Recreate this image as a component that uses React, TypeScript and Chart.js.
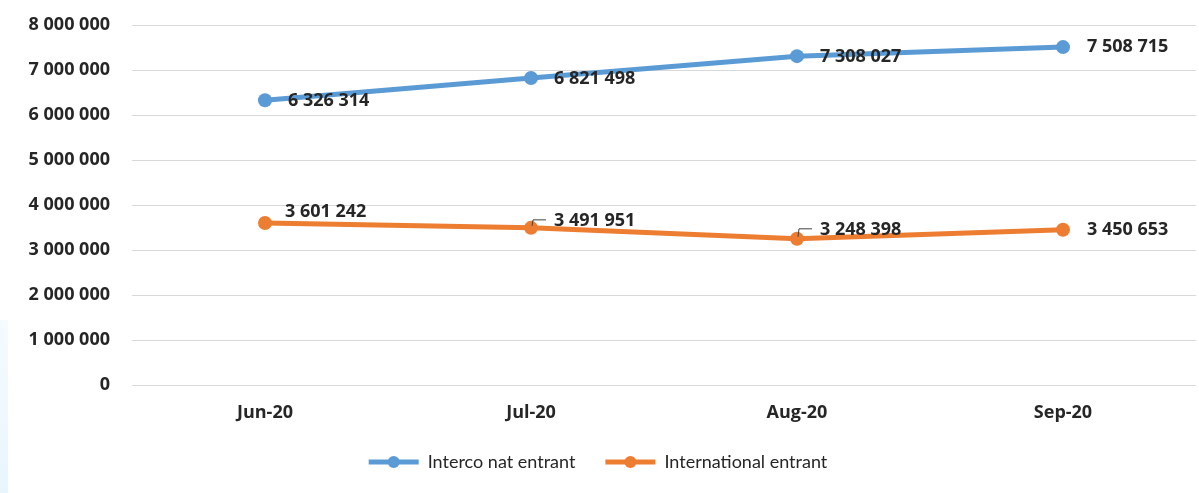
import React, { useEffect, useRef } from "react";
import { Chart, registerables } from "chart.js";

Chart.register(...registerables);

const categories = ["Jun-20", "Jul-20", "Aug-20", "Sep-20"];
const intercoNatEntrant = [6326314, 6821498, 7308027, 7508715];
const internationalEntrant = [3601242, 3491951, 3248398, 3450653];
const seriesNames = ["Interco nat entrant", "International entrant"];
const yMax = 8000000;
const yStep = 1000000;

const BLUE = "#5B9BD5";
const ORANGE = "#ED7D31";
const TEXT = "#262626";
const FONT = "'Open Sans', Lato, sans-serif";
const LEGEND_FONT = "Lato, 'Open Sans', sans-serif";

const fmt = (v: number) => String(Math.round(v)).replace(/\B(?=(\d{3})+(?!\d))/g, " ");

// label placement relative to each point (dx: left edge of text, dy: vertical centre), leader flag
const labelPlacement = [
  [
    { dx: 23, dy: 1, leader: false },
    { dx: 23, dy: 1, leader: false },
    { dx: 23, dy: 1, leader: false },
    { dx: 24, dy: 0, leader: false },
  ],
  [
    { dx: 20, dy: -11, leader: false },
    { dx: 23, dy: -7, leader: true },
    { dx: 23, dy: -9, leader: true },
    { dx: 24, dy: 0, leader: false },
  ],
];

const dataLabelPlugin = {
  id: "dataLabels",
  afterDatasetsDraw(chart: any) {
    const ctx = chart.ctx;
    ctx.save();
    ctx.font = `bold 18px ${FONT}`;
    ctx.fillStyle = TEXT;
    ctx.textAlign = "left";
    ctx.textBaseline = "middle";
    chart.data.datasets.forEach((ds: any, di: number) => {
      const meta = chart.getDatasetMeta(di);
      meta.data.forEach((pt: any, i: number) => {
        const p = labelPlacement[di][i];
        if (p.leader) {
          ctx.strokeStyle = "#404040";
          ctx.lineWidth = 1;
          ctx.beginPath();
          ctx.moveTo(pt.x + 1, pt.y - 2);
          ctx.lineTo(pt.x + 2, pt.y + p.dy - 1);
          ctx.lineTo(pt.x + 15, pt.y + p.dy - 1);
          ctx.stroke();
        }
        ctx.fillText(fmt(ds.data[i]), pt.x + p.dx, pt.y + p.dy);
      });
    });
    ctx.restore();
  },
};

const legendDotPlugin = {
  id: "legendDots",
  beforeLayout(chart: any) {
    const lg = chart.legend;
    if (lg && !lg.__patched) {
      const orig = lg.fit.bind(lg);
      lg.fit = () => {
        orig();
        lg.height = 70;
      };
      lg.__patched = true;
    }
  },
  afterDraw(chart: any) {
    const legend = chart.legend;
    if (!legend || !legend.legendHitBoxes) return;
    const ctx = chart.ctx;
    ctx.save();
    legend.legendHitBoxes.forEach((hb: any, i: number) => {
      const color = chart.data.datasets[i].borderColor;
      ctx.fillStyle = color;
      ctx.beginPath();
      ctx.arc(hb.left + 25, hb.top + hb.height / 2, 6, 0, Math.PI * 2);
      ctx.fill();
    });
    ctx.restore();
  },
};

const bgPlugin = {
  id: "bg",
  beforeDraw(chart: any) {
    const ctx = chart.ctx;
    ctx.save();
    ctx.fillStyle = "#ffffff";
    ctx.fillRect(0, 0, chart.width, chart.height);
    const g = ctx.createLinearGradient(0, 320, 0, 493);
    g.addColorStop(0, "#F5FBFE");
    g.addColorStop(1, "#E8F5FC");
    ctx.fillStyle = g;
    ctx.fillRect(0, 320, 8, 173);
    ctx.restore();
  },
};

export default function App() {
  const ref = useRef<HTMLCanvasElement | null>(null);
  useEffect(() => {
    if (!ref.current) return;
    const chart = new Chart(ref.current, {
      type: "line",
      data: {
        labels: categories,
        datasets: [
          {
            label: seriesNames[0],
            data: intercoNatEntrant,
            borderColor: BLUE,
            backgroundColor: BLUE,
            borderWidth: 5,
            pointRadius: 7,
            pointBorderWidth: 0,
            pointBackgroundColor: BLUE,
            tension: 0,
          },
          {
            label: seriesNames[1],
            data: internationalEntrant,
            borderColor: ORANGE,
            backgroundColor: ORANGE,
            borderWidth: 5,
            pointRadius: 7,
            pointBorderWidth: 0,
            pointBackgroundColor: ORANGE,
            tension: 0,
          },
        ],
      },
      options: {
        animation: false,
        responsive: false,
        layout: { autoPadding: false, padding: { top: 25, right: 3, left: 0, bottom: 0 } },
        plugins: {
          tooltip: { enabled: false },
          legend: {
            position: "bottom",
            labels: {
              boxWidth: 50,
              boxHeight: 5,
              padding: 30,
              color: TEXT,
              font: { family: LEGEND_FONT, size: 18, weight: "normal" },
              generateLabels: (c: any) =>
                c.data.datasets.map((ds: any, i: number) => ({
                  text: ds.label,
                  fillStyle: ds.borderColor,
                  strokeStyle: ds.borderColor,
                  lineWidth: 0,
                  fontColor: TEXT,
                  datasetIndex: i,
                  hidden: false,
                })),
            },
          },
        },
        scales: {
          x: {
            offset: true,
            grid: { display: false, drawTicks: false },
            border: { display: false },
            ticks: {
              padding: 17,
              color: TEXT,
              font: { family: FONT, size: 18, weight: "bold" },
            },
            afterFit: (s: any) => {
              s.height = 38;
            },
          },
          y: {
            min: 0,
            max: yMax,
            grid: { color: "#D9D9D9", lineWidth: 1, drawTicks: false },
            border: { display: false },
            ticks: {
              stepSize: yStep,
              padding: 22,
              color: TEXT,
              font: { family: FONT, size: 18, weight: "bold" },
              callback: (v: any) => fmt(Number(v)),
            },
            afterFit: (s: any) => {
              s.width = 132;
              s.paddingTop = 0;
              s.paddingBottom = 0;
            },
          },
        },
      },
      plugins: [bgPlugin, dataLabelPlugin, legendDotPlugin],
    });
    return () => chart.destroy();
  }, []);
  return (
    <div style={{ position: "fixed", left: 0, top: 0, width: 1199, height: 493 }}>
      <canvas ref={ref} width={1199} height={493} style={{ display: "block" }} />
    </div>
  );
}
